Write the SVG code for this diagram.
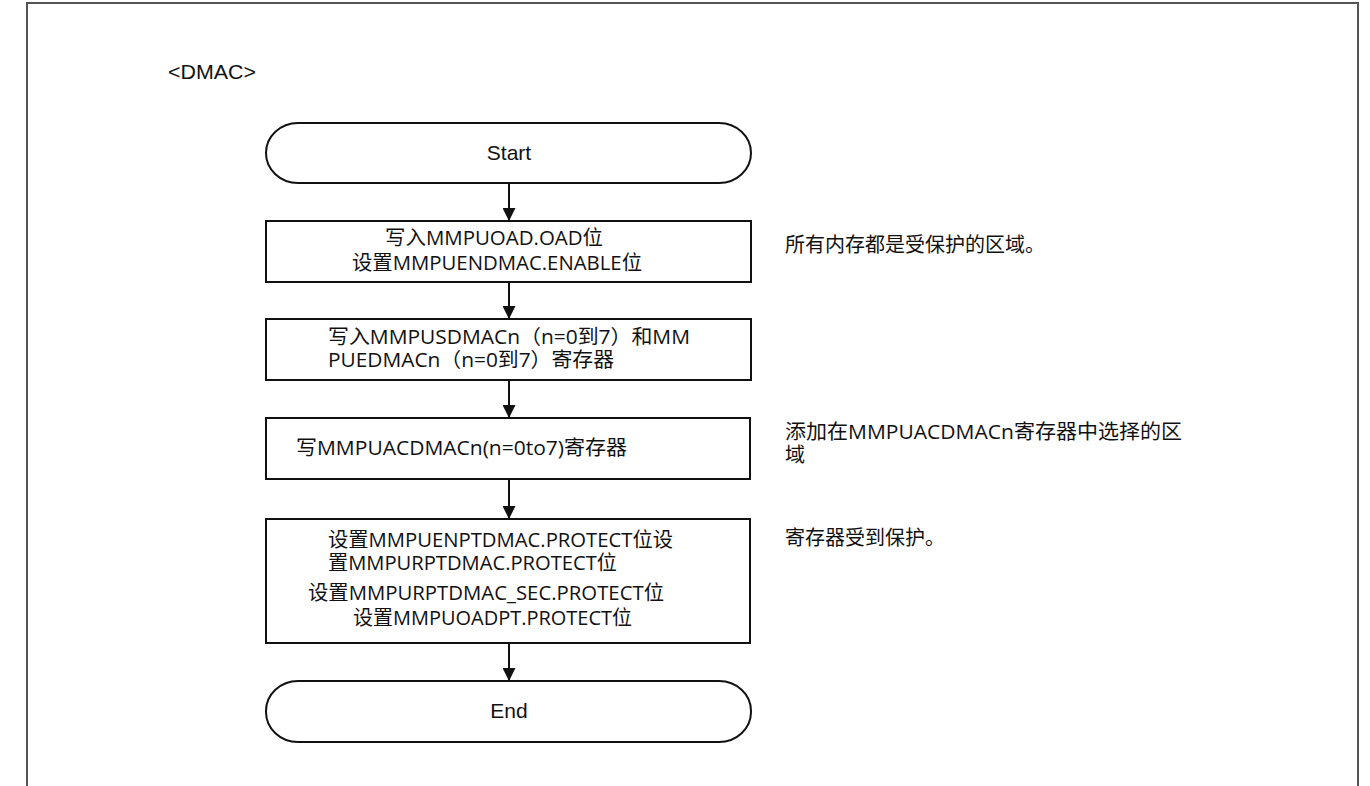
<svg xmlns="http://www.w3.org/2000/svg" width="1370" height="786" viewBox="0 0 1370 786">
<defs>
<style>
.frame{fill:none;stroke:#555;stroke-width:2}
.box{fill:#fff;stroke:#111;stroke-width:2}
.lat{font-family:"Liberation Sans",Arial,sans-serif;font-size:21px;fill:#111}
.cjk{font-family:"Open Sans","Noto Sans CJK SC",sans-serif;font-size:20px;fill:#111}
.conn{stroke:#111;stroke-width:2;fill:none;marker-end:url(#arr)}
</style>
<marker id="arr" viewBox="0 0 13 13" refX="13" refY="6.5" markerWidth="13" markerHeight="13" markerUnits="userSpaceOnUse" orient="auto">
<path d="M0,0 L13,6.5 L0,13 Z" fill="#111"/>
</marker>
</defs>
<rect width="1370" height="786" fill="#fff"/>
<path class="frame" d="M27,786 V3 H1358 V786"/>
<text class="lat" x="168" y="79" textLength="88" lengthAdjust="spacingAndGlyphs">&lt;DMAC&gt;</text>
<g id="connectors">
<line class="conn" x1="509" y1="183" x2="509" y2="221"/>
<line class="conn" x1="509" y1="282" x2="509" y2="319"/>
<line class="conn" x1="509" y1="380" x2="509" y2="418"/>
<line class="conn" x1="509" y1="479" x2="509" y2="519"/>
<line class="conn" x1="509" y1="643" x2="509" y2="681"/>
</g>
<g id="start">
<rect class="box" x="266" y="123" width="485" height="60" rx="32" ry="30"/>
<text class="lat" x="509" y="160" text-anchor="middle">Start</text>
</g>
<g id="step1">
<rect class="box" x="266" y="221" width="485" height="61"/>
<text class="cjk" x="385" y="245" textLength="218" lengthAdjust="spacingAndGlyphs">写入MMPUOAD.OAD位</text>
<text class="cjk" x="352" y="270" textLength="290" lengthAdjust="spacingAndGlyphs">设置MMPUENDMAC.ENABLE位</text>
</g>
<g id="step2">
<rect class="box" x="266" y="319" width="485" height="61"/>
<text class="cjk" x="328" y="344" textLength="362" lengthAdjust="spacingAndGlyphs">写入MMPUSDMACn（n=0到7）和MM</text>
<text class="cjk" x="328" y="367" textLength="286" lengthAdjust="spacingAndGlyphs">PUEDMACn（n=0到7）寄存器</text>
</g>
<g id="step3">
<rect class="box" x="266" y="418" width="484" height="61"/>
<text class="cjk" x="296" y="455" textLength="331" lengthAdjust="spacingAndGlyphs">写MMPUACDMACn(n=0to7)寄存器</text>
</g>
<g id="step4">
<rect class="box" x="266" y="519" width="484" height="124"/>
<text class="cjk" x="328" y="547" textLength="345" lengthAdjust="spacingAndGlyphs">设置MMPUENPTDMAC.PROTECT位设</text>
<text class="cjk" x="328" y="570" textLength="289" lengthAdjust="spacingAndGlyphs">置MMPURPTDMAC.PROTECT位</text>
<text class="cjk" x="308" y="600" textLength="356" lengthAdjust="spacingAndGlyphs">设置MMPURPTDMAC_SEC.PROTECT位</text>
<text class="cjk" x="353" y="625" textLength="279" lengthAdjust="spacingAndGlyphs">设置MMPUOADPT.PROTECT位</text>
</g>
<g id="end">
<rect class="box" x="266" y="681" width="485" height="61" rx="32" ry="30"/>
<text class="lat" x="509" y="718" text-anchor="middle">End</text>
</g>
<g id="note1">
<text class="cjk" x="785" y="252">所有内存都是受保护的区域。</text>
</g>
<g id="note2">
<text class="cjk" x="785" y="439" textLength="397" lengthAdjust="spacingAndGlyphs">添加在MMPUACDMACn寄存器中选择的区</text>
<text class="cjk" x="785" y="462">域</text>
</g>
<g id="note3">
<text class="cjk" x="785" y="545">寄存器受到保护。</text>
</g>
</svg>
